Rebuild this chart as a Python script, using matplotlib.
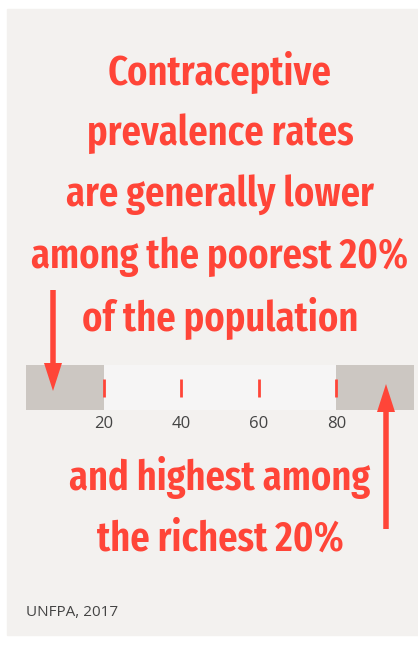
import matplotlib
matplotlib.use("Agg")
import matplotlib.pyplot as plt
from matplotlib.patches import Rectangle

# данные шкалы
scale_ticks = [20, 40, 60, 80]
tick_labels = ["20", "40", "60", "80"]
grey_segments = [(0, 20), (80, 100)]
top_lines = ["Contraceptive", "prevalence rates", "are generally lower",
             "among the poorest 20%", "of the population"]
bottom_lines = ["and highest among", "the richest 20%"]
source = "UNFPA, 2017"

RED = "#ff4538"
HEAD_FONT = "Fira Sans Extra Condensed"

fig = plt.figure(figsize=(4.18, 6.45), dpi=100)
fig.patch.set_facecolor("white")

ax = fig.add_axes([0, 0, 1, 1])
ax.set_xlim(0, 418)
ax.set_ylim(645, 0)
ax.axis("off")
ax.add_patch(Rectangle((7, 9), 418, 626, color="#f3f1ef", zorder=0))

for i, line in enumerate(top_lines):
    ax.text(220, 72 + i * 61.5, line, ha="center", va="center", color=RED,
            fontsize=30, fontweight="semibold", family=HEAD_FONT)
for i, line in enumerate(bottom_lines):
    ax.text(220, 478 + i * 61.5, line, ha="center", va="center", color=RED,
            fontsize=30, fontweight="semibold", family=HEAD_FONT)

ax.text(26, 612, source, ha="left", va="center", color="#444444",
        fontsize=11, family="Open Sans")

# шкала
bx = fig.add_axes([26 / 418, 1 - 410 / 645, 388 / 418, 45 / 645])
bx.set_xlim(0, 100)
bx.set_ylim(0, 1)
bx.set_facecolor("#f6f5f5")
for a, b in grey_segments:
    bx.axvspan(a, b, color="#ccc7c2", lw=0)
for t in scale_ticks:
    bx.plot([t, t], [0.3, 0.68], color=RED, lw=2, solid_capstyle="butt")
for s in bx.spines.values():
    s.set_visible(False)
bx.set_xticks(scale_ticks)
bx.set_xticklabels(tick_labels, family="Open Sans", fontsize=12, color="#444444")
bx.tick_params(axis="x", length=0, pad=4)
bx.set_yticks([])

# стрелки поверх шкалы
top = fig.add_axes([0, 0, 1, 1])
top.set_xlim(0, 418)
top.set_ylim(645, 0)
top.axis("off")
top.patch.set_alpha(0)
top.arrow(53, 290, 0, 101, width=5.5, head_width=18, head_length=28,
          length_includes_head=True, color=RED, lw=0)
top.arrow(386, 529, 0, -145, width=5.5, head_width=18, head_length=28,
          length_includes_head=True, color=RED, lw=0)

fig.savefig("out.png", dpi=100, facecolor="white")
